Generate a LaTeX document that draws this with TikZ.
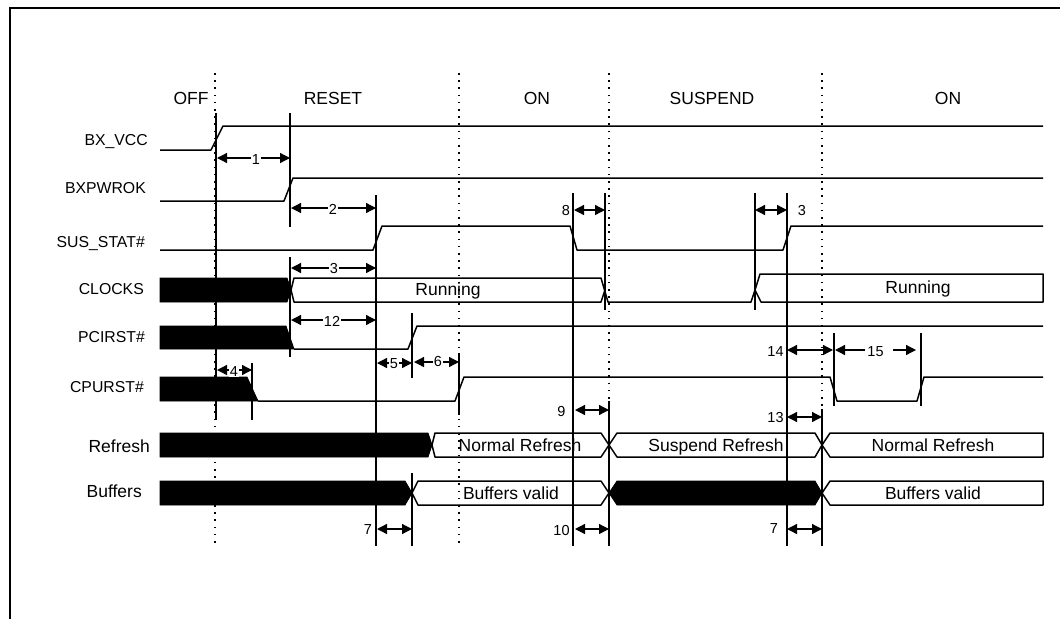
\documentclass[tikz,border=0pt]{standalone}
\usepackage{fontspec}
\setmainfont{Liberation Sans}
\usetikzlibrary{arrows.meta}
\tikzset{
  >={Triangle[length=10pt,width=10pt]},
  frame/.style={draw=black,line width=2.2pt},
  phase/.style={draw=black,line width=1.5pt,dash pattern=on 1.6pt off 5.6pt},
  mark line/.style={draw=black,line width=1.3pt},
  signal/.style={draw=black,line width=1.5pt,line join=round},
  bus/.style={fill=black,draw=black,line width=0.8pt},
  measure/.style={<->,draw=black,line width=1.3pt},
  state/.style={inner sep=0pt,text height=12.3pt,text depth=0pt,font=\fontsize{17.5}{20}\selectfont},
  sig/.style={inner sep=0pt,anchor=east,text height=11.3pt,text depth=0pt,font=\fontsize{15.8}{20}\selectfont},
  sigbig/.style={sig,text height=12.3pt,font=\fontsize{17.5}{20}\selectfont},
  num/.style={inner sep=1pt,text height=10.4pt,text depth=0pt,font=\fontsize{14.5}{17}\selectfont},
  numfill/.style={num,fill=white},
}
\begin{document}
\begin{tikzpicture}[x=1pt,y=-1pt]
\useasboundingbox (0,0) rectangle (1060,619);
\draw[frame] (10,619)--(10,8)--(1060,8);
% phase borders
\draw[phase] (215,73)--(215,543);
\draw[phase] (459,73)--(459,543);
\draw[phase] (609,73)--(609,543);
\draw[phase] (822,73)--(822,543);
% timing marks
\draw[mark line] (216,113)--(216,420);
\draw[mark line] (290,113)--(290,227);
\draw[mark line] (290,257)--(290,357);
\draw[mark line] (376,195)--(376,546);
\draw[mark line] (412,313)--(412,378);
\draw[mark line] (412,473)--(412,546);
\draw[mark line] (252,363)--(252,420);
\draw[mark line] (459,353)--(459,415);
\draw[mark line] (573,193)--(573,546);
\draw[mark line] (605,193)--(605,310);
\draw[mark line] (609,401)--(609,546);
\draw[mark line] (755,193)--(755,310);
\draw[mark line] (787,193)--(787,546);
\draw[mark line] (822,409)--(822,546);
\draw[mark line] (834,333)--(834,406);
\draw[mark line] (921,333)--(921,406);
% undefined parts
\fill[bus] (160,278)--(287,278)--(291,290)--(287,302)--(160,302)--cycle;
\fill[bus] (160,326)--(286,326)--(294,349)--(160,349)--cycle;
\fill[bus] (160,377)--(247,377)--(258,401)--(160,401)--cycle;
\fill[bus] (160,433)--(428,433)--(432,445)--(428,457)--(160,457)--cycle;
\fill[bus] (160,481)--(405,481)--(412,493)--(405,505)--(160,505)--cycle;
\fill[bus] (609,493)--(617,481)--(815,481)--(822,493)--(815,505)--(617,505)--cycle;
% signals
\draw[signal] (160,150)--(211,150)--(223,126)--(1043,126);
\draw[signal] (160,201)--(284,201)--(293,178)--(1043,178);
\draw[signal] (160,250)--(373,250)--(382,226)--(570,226)--(577,250)--(783,250)--(791,226)--(1043,226);
\draw[signal] (291,290)--(294,278)--(601,278)--(608,302)--(751,302)--(755,290)--(760,274)--(1043,274)--(1043,302)--(761,302)--(755,290);
\draw[signal] (291,290)--(294,302)--(601,302)--(605,290);
\draw[signal] (294,349)--(408,349)--(417,326)--(1043,326);
\draw[signal] (258,401)--(455,401)--(464,377)--(830,377)--(837,401)--(917,401)--(924,377)--(1043,377);
\draw[signal] (432,445)--(435,433)--(601,433)--(609,445)--(601,457)--(435,457)--cycle;
\draw[signal] (609,445)--(617,433)--(815,433)--(822,445)--(815,457)--(617,457)--cycle;
\draw[signal] (822,445)--(830,433)--(1043,433)--(1043,457)--(830,457)--cycle;
\draw[signal] (412,493)--(418,481)--(601,481)--(609,493)--(601,505)--(418,505)--cycle;
\draw[signal] (822,493)--(830,481)--(1043,481)--(1043,505)--(830,505)--cycle;
% states
\node[state] (off) at (191,98) {OFF};
\node[state] (reset) at (333,98) {RESET};
\node[state] (on1) at (537,98) {ON};
\node[state] (suspend) at (712,98) {SUSPEND};
\node[state] (on2) at (948,98) {ON};
% signal names
\node[sig] (bxvcc) at (148,140) {BX\_VCC};
\node[sig] (bxpwrok) at (146,188) {BXPWROK};
\node[sig] (susstat) at (145,242) {SUS\_STAT\#};
\node[sig] (clocks) at (144,289) {CLOCKS};
\node[sig] (pcirst) at (145,337) {PCIRST\#};
\node[sig] (cpurst) at (144,387) {CPURST\#};
\node[sigbig] (refresh) at (150,446) {Refresh};
\node[sigbig] (buffers) at (142,491) {Buffers};
% bus texts
\node[state] (run1) at (448,289) {Running};
\node[state] (run2) at (918,287) {Running};
\node[state] (norm1) at (520,445) {Normal Refresh};
\node[state] (susp) at (716,445) {Suspend Refresh};
\node[state] (norm2) at (933,445) {Normal Refresh};
\node[state] (valid1) at (511,493) {Buffers valid};
\node[state] (valid2) at (933,493) {Buffers valid};
% measures
\coordinate (m1a) at (217,158);
\coordinate (m1b) at (290,158);
\coordinate (m2a) at (291,208);
\coordinate (m2b) at (376,208);
\coordinate (m3a) at (291,268);
\coordinate (m3b) at (376,268);
\coordinate (m12a) at (291,320);
\coordinate (m12b) at (376,320);
\coordinate (m4a) at (217,370);
\coordinate (m4b) at (252,370);
\coordinate (m5a) at (377,363);
\coordinate (m5b) at (412,363);
\coordinate (m6a) at (414,362);
\coordinate (m6b) at (459,362);
\coordinate (m7a) at (377,529);
\coordinate (m7b) at (412,529);
\coordinate (m8a) at (574,210);
\coordinate (m8b) at (605,210);
\coordinate (m3ra) at (755,210);
\coordinate (m3rb) at (787,210);
\coordinate (m14a) at (787,350);
\coordinate (m14b) at (833,350);
\coordinate (m9a) at (575,410);
\coordinate (m9b) at (609,410);
\coordinate (m13a) at (787,417);
\coordinate (m13b) at (822,417);
\coordinate (m10a) at (575,529);
\coordinate (m10b) at (609,529);
\coordinate (m7ra) at (787,529);
\coordinate (m7rb) at (822,529);
\coordinate (m15a) at (835,350);
\coordinate (m15b) at (865,350);
\coordinate (m15c) at (893,350);
\coordinate (m15d) at (916,350);
\draw[measure] (m1a)--(m1b);
\draw[measure] (m2a)--(m2b);
\draw[measure] (m3a)--(m3b);
\draw[measure] (m12a)--(m12b);
\draw[measure] (m4a)--(m4b);
\draw[measure] (m5a)--(m5b);
\draw[measure] (m6a)--(m6b);
\draw[measure] (m7a)--(m7b);
\draw[measure] (m8a)--(m8b);
\draw[measure] (m3ra)--(m3rb);
\draw[measure] (m14a)--(m14b);
\draw[measure] (m9a)--(m9b);
\draw[measure] (m13a)--(m13b);
\draw[measure] (m10a)--(m10b);
\draw[measure] (m7ra)--(m7rb);
\draw[measure,<-] (m15a)--(m15b);
\draw[measure,->] (m15c)--(m15d);
% measure numbers
\node[numfill] (n1) at (256,159) {1};
\node[numfill] (n2) at (333,209) {2};
\node[numfill] (n3) at (334,268) {3};
\node[numfill] (n12) at (332,321) {12};
\node[numfill] (n4) at (234,371) {4};
\node[numfill] (n5) at (394,363) {5};
\node[numfill] (n6) at (438,361) {6};
\node[num] (n7) at (368,529) {7};
\node[num] (n8) at (566,210) {8};
\node[num] (n3r) at (802,210) {3};
\node[num] (n14) at (775.5,351) {14};
\node[num] (n15) at (875.5,351) {15};
\node[num] (n9) at (561.5,411) {9};
\node[num] (n13) at (775.5,417) {13};
\node[num] (n10) at (561.5,530) {10};
\node[num] (n7r) at (774,528) {7};
\end{tikzpicture}
\end{document}
